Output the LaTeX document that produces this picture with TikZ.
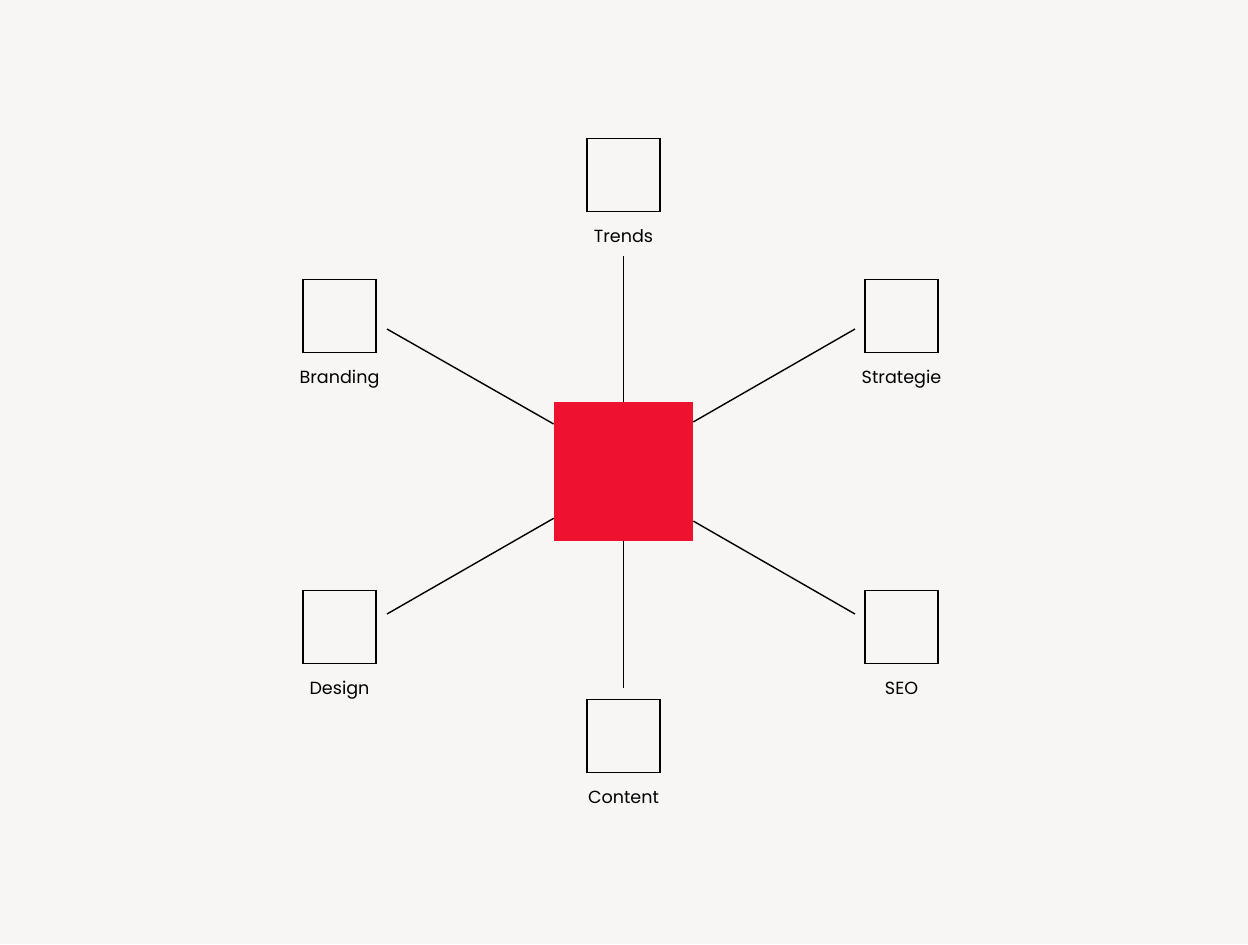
\documentclass[tikz,border=0pt]{standalone}
\usepackage{fontspec}
\setmainfont{Poppins}
\usepackage{tikz}
\usetikzlibrary{positioning,calc}
\definecolor{paper}{HTML}{F7F6F5}
\definecolor{hubred}{HTML}{EE1230}
\tikzset{
	topic/.style={draw=black, line width=1.1pt, fill=none, minimum size=1.46cm, inner sep=0pt},
	hubbox/.style={fill=hubred, draw=none, minimum size=2.78cm, inner sep=0pt},
	lbl/.style={font=\fontsize{10}{12}\selectfont, anchor=base, inner sep=0pt},
	spoke/.style={line width=0.8pt, black}
}
\begin{document}
\begin{tikzpicture}[x=0.02cm,y=-0.02cm]
		\fill[paper] (0,0) rectangle (1248,944);
		\useasboundingbox (0,0) rectangle (1248,944);
		% hub
		\node[hubbox] (hub) at (623.5,471.5) {};
		% topics
		\node[topic] (trends) at (623.5,175) {};
		\node[topic] (branding) at (339.5,316) {};
		\node[topic] (strategie) at (901.5,316) {};
		\node[topic] (design) at (339.5,627) {};
		\node[topic] (seo) at (901.5,627) {};
		\node[topic] (content) at (623.5,736) {};
		% labels
		\node[lbl] (trendsL) at (623.5,242) {Trends};
		\node[lbl] (brandingL) at (339.5,383) {Branding};
		\node[lbl] (strategieL) at (901.5,383) {Strategie};
		\node[lbl] (designL) at (339.5,694) {Design};
		\node[lbl] (seoL) at (901.5,694) {SEO};
		\node[lbl] (contentL) at (623.5,803) {Content};
		% free ends of the spokes
		\coordinate (eT) at (623.5,256);
		\coordinate (eB) at (387,329);
		\coordinate (eS) at (855,329);
		\coordinate (eD) at (387,614);
		\coordinate (eE) at (855,614);
		\coordinate (eC) at (623.5,688);
		% spokes
		\draw[spoke] (eT) -- (hub.north);
		\draw[spoke] (eC) -- (hub.south);
		\draw[spoke] (eB) -- ($(hub.north west)!0.16!(hub.south west)$);
		\draw[spoke] (eD) -- ($(hub.north west)!0.835!(hub.south west)$);
		\draw[spoke] (eS) -- ($(hub.north east)!0.145!(hub.south east)$);
		\draw[spoke] (eE) -- ($(hub.north east)!0.855!(hub.south east)$);
	\end{tikzpicture}
\end{document}
